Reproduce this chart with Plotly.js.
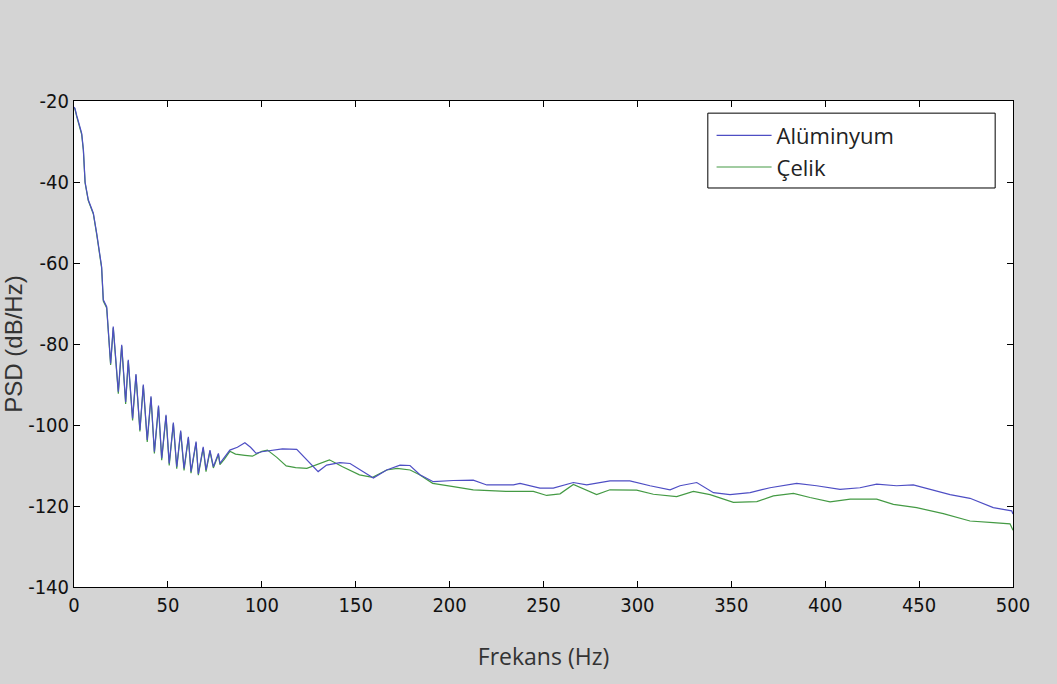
<!DOCTYPE html>
<html>
<head>
<meta charset="utf-8">
<script src="https://cdn.plot.ly/plotly-3.0.1.min.js"></script>
<style>html,body{margin:0;padding:0;background:#d4d4d4;}#chart{width:1057px;height:684px;}</style>
</head>
<body>
<div id="chart"></div>
<script>
// Alüminyum (blue) series
const freqAl = [0, 0.5, 1.4, 2.3, 4.1, 5.0, 5.9, 7.6, 10.3, 12.1, 14.7, 15.6, 17.4, 19.5,
  20.9, 23.6, 25.4, 27.5, 28.9, 31.2, 33.0, 35.1, 36.9, 39.0, 41.0, 42.8, 45.0, 46.7, 49.0, 50.7,
  52.9, 54.7, 56.8, 58.6, 60.9, 62.3, 65.0, 66.2, 68.8, 70.3, 72.4, 74.2, 76.9, 77.7,
  80, 83, 87, 91, 94, 97, 100, 103, 107, 111, 118.6, 124, 130, 134.5, 141.6, 147, 152.3, 159.4,
  166.5, 173.6, 178.9, 184.2, 191.3, 202, 212.6, 219.8, 234, 237.5, 248.1, 255.2, 265.9, 273,
  285.4, 296, 306.7, 317.4, 322.7, 331.6, 340.5, 349.3, 360, 370.6, 384.8, 395.4, 407.9, 418.5,
  427.4, 438, 446.9, 455.8, 466.5, 477.1, 489.5, 499.3, 500];
const psdAl = [-21.5, -21.8, -23.5, -25.2, -28, -32, -40, -44.4, -47.7, -52.7, -60.9, -69.1, -70.8, -84.8,
  -75.7, -91.8, -80.2, -94.3, -83.9, -98.4, -87.4, -101.2, -90.0, -103.7, -92.9, -106.6, -95.2, -108.2, -97.5, -109.5,
  -99.4, -110.3, -101.4, -110.7, -102.9, -111.5, -104.1, -112.1, -105.4, -111.1, -106.2, -110.3, -107.0, -109.5,
  -108, -106.2, -105.5, -104.4, -105.5, -107, -106.6, -106.4, -106, -105.9, -106, -108.6, -111.5, -109.9, -109.3, -109.5, -111.1, -113.1,
  -111.1, -109.9, -110, -112.3, -114, -113.7, -113.6, -114.8, -114.8, -114.4, -115.6, -115.6, -114.2, -114.8,
  -113.8, -113.8, -115, -116, -115, -114.2, -116.7, -117.2, -116.7, -115.5, -114.4, -115, -115.9, -115.5,
  -114.6, -115, -114.8, -115.9, -117.2, -118.1, -120.4, -121.2, -122];

// Çelik (green) series
const freqCe = [0, 0.5, 1.4, 2.3, 4.1, 5.0, 5.9, 7.6, 10.3, 12.1, 14.7, 15.6, 17.4, 19.5,
  20.9, 23.6, 25.4, 27.5, 28.9, 31.2, 33.0, 35.1, 36.9, 39.0, 41.0, 42.8, 45.0, 46.7, 49.0, 50.7,
  52.9, 54.7, 56.8, 58.6, 60.9, 62.3, 65.0, 66.2, 68.8, 70.3, 72.4, 74.2, 76.9, 77.7,
  80, 83, 86, 91, 95, 97, 100, 103, 108, 113, 118, 124, 131, 136, 143, 152, 159, 166.5, 172, 179,
  184, 191, 202, 212.6, 230, 244.6, 251.7, 258.8, 265.9, 272, 278.3, 285.4, 299.6, 308.5, 320.9,
  329.8, 338.7, 351.1, 363.6, 372.4, 383.1, 391.9, 402.6, 413.3, 427.4, 436.3, 448.7, 462.9, 477.1,
  489.5, 498.4, 500];
const psdCe = [-21.7, -22.0, -23.8, -25.5, -28.3, -32.3, -40.2, -44.6, -47.9, -53.0, -61.2, -69.4, -71.1, -85.2,
  -76.0, -92.3, -80.5, -94.8, -84.2, -98.9, -87.7, -101.6, -90.3, -104.2, -93.2, -107.0, -95.5, -108.7, -97.8, -110.0,
  -99.7, -110.8, -101.7, -111.2, -103.2, -111.9, -104.4, -112.4, -105.7, -111.5, -106.5, -110.6, -107.3, -109.8,
  -108.5, -106.5, -107.2, -107.5, -107.7, -107.2, -106.5, -106.2, -108, -110.1, -110.5, -110.7, -109.5, -108.6, -110.3, -112.3, -112.9, -111.1, -110.7, -111.1,
  -112.3, -114.4, -115.2, -116, -116.4, -116.4, -117.4, -117, -114.7, -116, -117.2, -116, -116.1, -117.1, -117.7,
  -116.4, -117.2, -119.1, -118.9, -117.5, -116.9, -117.9, -119, -118.3, -118.3, -119.6, -120.4, -121.9, -123.7,
  -124.1, -124.4, -126];

const seriesNames = ['Alüminyum', 'Çelik'];
const xTicks = [0, 50, 100, 150, 200, 250, 300, 350, 400, 450, 500];
const yTicks = [-140, -120, -100, -80, -60, -40, -20];

const traces = [
  {x: freqCe, y: psdCe, name: seriesNames[1], type: 'scatter', mode: 'lines',
   line: {color: '#449a44', width: 1.2}},
  {x: freqAl, y: psdAl, name: seriesNames[0], type: 'scatter', mode: 'lines',
   line: {color: '#4e4ec4', width: 1.2}}
];

const tickFont = {family: 'DejaVu Sans Condensed, Liberation Sans Narrow, DejaVu Sans, sans-serif',
  stretch: 'condensed', size: 20, color: '#111'};
const labelFont = {family: 'Open Sans, Noto Sans, sans-serif', size: 23, color: '#333'};
const layout = {
  width: 1057, height: 684,
  paper_bgcolor: '#d4d4d4', plot_bgcolor: '#ffffff',
  margin: {l: 74, r: 44, t: 101, b: 97},
  showlegend: true,
  legend: {
    x: 0.679, y: 0.972, xanchor: 'left', yanchor: 'top',
    traceorder: 'reversed',
    bgcolor: 'rgba(0,0,0,0)', borderwidth: 0,
    font: {family: 'Open Sans, Noto Sans, sans-serif', size: 22, color: '#222'},
    itemwidth: 55, tracegroupgap: 0
  },
  shapes: [{type: 'rect', xref: 'paper', yref: 'paper', x0: 0.675, x1: 0.981, y0: 0.821, y1: 0.975,
    fillcolor: '#ffffff', line: {color: '#000000', width: 1}, layer: 'above'}],
  xaxis: {
    range: [0, 500], tickvals: xTicks, ticktext: xTicks.map(String),
    ticks: 'inside', ticklen: 6, tickcolor: '#000', tickwidth: 1,
    showline: true, linecolor: '#000', linewidth: 1, mirror: 'ticks',
    showgrid: false, zeroline: false, tickfont: tickFont,
    title: {text: 'Frekans (Hz)', standoff: 32, font: labelFont}
  },
  yaxis: {
    range: [-140, -20], tickvals: yTicks, ticktext: yTicks.map(String),
    ticks: 'inside', ticklen: 6, tickcolor: '#000', tickwidth: 1,
    showline: true, linecolor: '#000', linewidth: 1, mirror: 'ticks',
    showgrid: false, zeroline: false, tickfont: tickFont,
    title: {text: 'PSD (dB/Hz)', standoff: 0,
      font: {family: 'Liberation Sans, Arial, sans-serif', size: 24, color: '#333'}}
  }
};

Plotly.newPlot('chart', traces, layout, {displayModeBar: false, staticPlot: true});
</script>
</body>
</html>
